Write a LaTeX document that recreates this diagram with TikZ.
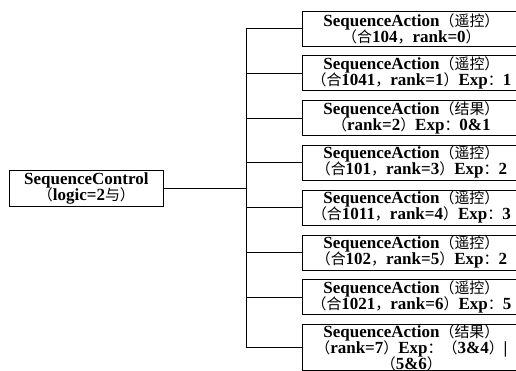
\documentclass[tikz,border=0pt]{standalone}
\usepackage{fontspec}
\setmainfont{Liberation Serif}
\newfontfamily\cjk[Scale=0.88]{Noto Sans CJK SC}
\usepackage{tikz-qtree}

\newcommand{\zh}[1]{\smash{\cjk\mdseries #1}}

\tikzset{
  ctrlbox/.style={draw, line width=0.8pt, align=center, minimum width=154pt,
    minimum height=36pt, inner sep=1pt, yshift=5pt, font=\bfseries\fontsize{17}{16}\selectfont},
  actbox/.style={draw, line width=0.8pt, align=center, minimum width=218pt,
    minimum height=35pt, inner sep=1pt, font=\bfseries\fontsize{17}{16}\selectfont},
}

\begin{document}
\begin{tikzpicture}[grow'=right, level distance=325pt, sibling distance=9pt,
  edge from parent/.style={draw, line width=0.8pt,
    edge from parent path={(\tikzparentnode.east) -- ++(83pt,0pt) |- (\tikzchildnode.west)}}]
\Tree
[.\node[ctrlbox](ctrl){SequenceControl\\\zh{（}logic=2\zh{与）}};
  \node[actbox](a0){SequenceAction\zh{（遥控）}\\\zh{（合}104\zh{，}rank=0\zh{）}};
  \node[actbox](a1){SequenceAction\zh{（遥控）}\\\zh{（合}1041\zh{，}rank=1\zh{）}Exp\zh{：}1};
  \node[actbox](a2){SequenceAction\zh{（结果）}\\\zh{（}rank=2\zh{）}Exp\zh{：}0\&1};
  \node[actbox](a3){SequenceAction\zh{（遥控）}\\\zh{（合}101\zh{，}rank=3\zh{）}Exp\zh{：}2};
  \node[actbox](a4){SequenceAction\zh{（遥控）}\\\zh{（合}1011\zh{，}rank=4\zh{）}Exp\zh{：}3};
  \node[actbox](a5){SequenceAction\zh{（遥控）}\\\zh{（合}102\zh{，}rank=5\zh{）}Exp\zh{：}2};
  \node[actbox](a6){SequenceAction\zh{（遥控）}\\\zh{（合}1021\zh{，}rank=6\zh{）}Exp\zh{：}5};
  \node[actbox](a7){SequenceAction\zh{（结果）}\\\zh{（}rank=7\zh{）}Exp\zh{：（}3\&4\zh{）}|\\\zh{（}5\&6\zh{）}};
]
% page of the reference
\pgfresetboundingbox
\useasboundingbox ([shift={(-302pt,10.5pt)}]a0.north west) rectangle ([shift={(214pt,-359.5pt)}]a0.north west);
\end{tikzpicture}
\end{document}
